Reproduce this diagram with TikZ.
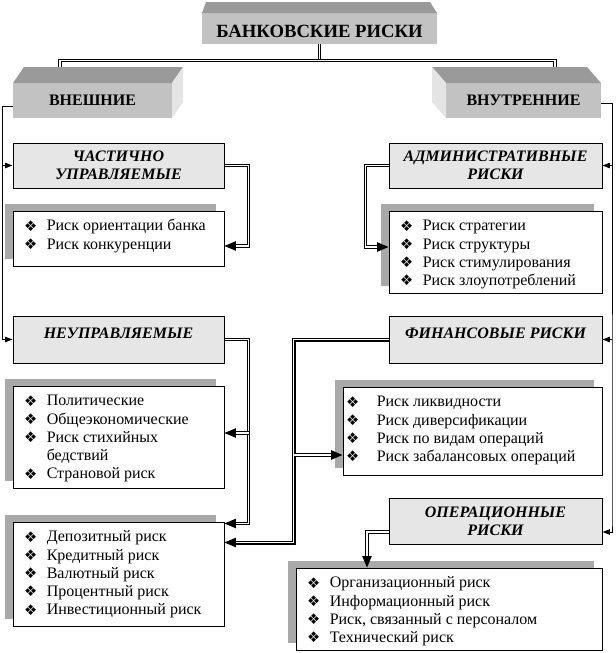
\documentclass[tikz,border=0pt]{standalone}
\usepackage{fontspec}
\setmainfont{Liberation Serif}
\newfontfamily\symfont{DejaVu Sans}
\usetikzlibrary{arrows.meta,shadows,calc}
\definecolor{topface}{HTML}{9A9A9A}
\definecolor{frontface}{HTML}{C2C2C2}
\definecolor{sideface}{HTML}{E4E4E4}
\definecolor{headfill}{HTML}{E6E6E6}
\definecolor{halftone}{HTML}{A9A9A9}
\newcommand\bul{{\symfont\fontsize{11pt}{11pt}\selectfont\raisebox{-0.3pt}{❖}}}
\newcommand\itm[2][8.5pt]{\rule{0pt}{9pt}\makebox[25.5pt][l]{\hspace{#1}\bul}#2}
\newcommand\itmcont[1]{\rule{0pt}{9pt}\hspace{25.5pt}#1}
\begin{document}
\begin{tikzpicture}[x=0.75pt,y=-0.75pt,
  box3d/.style={fill=frontface, inner sep=0pt, outer sep=0pt, font=\bfseries\fontsize{12pt}{14pt}\selectfont},
  headbox/.style={draw=black, line width=0.75pt, fill=headfill, inner sep=0pt, align=center,
    font=\bfseries\itshape\fontsize{12pt}{13.5pt}\selectfont,
    drop shadow={shadow xshift=1.1pt, shadow yshift=-1.1pt, fill=black!60, opacity=1}},
  listbox/.style={draw=black, line width=0.75pt, fill=white, inner sep=0pt,
    drop shadow={shadow xshift=-6pt, shadow yshift=5.25pt, fill=halftone, opacity=1}},
  listtext/.style={anchor=north west, inner sep=0pt, align=left, font=\fontsize{12pt}{13.7pt}\selectfont},
  dbl/.style={draw=black, line width=0.7pt, double=white, double distance=1.3pt},
  dblthick/.style={draw=black, line width=0.9pt, double=white, double distance=1.2pt},
  tipbig/.style={-{Triangle[length=8.5pt,width=7pt]}},
  rail/.style={draw=black, line width=0.75pt},
  tipsmall/.style={-{Triangle[length=5.5pt,width=4pt]}}
]
\useasboundingbox (0,0) rectangle (615,653);

% ---- 3D boxes ----
\node[box3d, minimum width=176.25pt, minimum height=23.25pt, font=\bfseries\fontsize{14pt}{16pt}\selectfont]
  (bank) at (319.5,28.5) {\raisebox{-2.25pt}[\height][\depth]{БАНКОВСКИЕ РИСКИ}};
\fill[topface] (bank.north west) -- ++(4,-11) -- ($(bank.north east)+(-7,-11)$) -- (bank.north east) -- cycle;

\node[box3d, minimum width=119.25pt, minimum height=26.25pt] (ext) at (92.5,100.5) {ВНЕШНИЕ};
\fill[topface] (ext.north west) -- ++(11,-16) -- ($(ext.north east)+(11,-16)$) -- (ext.north east) -- cycle;
\fill[sideface] (ext.north east) -- ++(11,-16) -- ($(ext.south east)+(11,-16)$) -- (ext.south east) -- cycle;

\node[box3d, minimum width=116.25pt, minimum height=26.25pt] (int) at (523.5,100.5) {ВНУТРЕННИЕ};
\fill[topface] (int.north west) -- ++(-14,-16) -- ($(int.north east)+(-14,-16)$) -- (int.north east) -- cycle;
\fill[sideface] (int.north west) -- ++(-14,-16) -- ($(int.south west)+(-14,-16)$) -- (int.south west) -- cycle;

\coordinate (hub) at (319.5,60.5);
\coordinate (extTop) at (60,67);
\coordinate (intTop) at (555,67);
\draw[dbl] (bank.south) -- (hub);
\draw[dbl] (extTop) |- (hub) -| (intTop);

% ---- heading boxes ----
\node[headbox, minimum width=158.25pt, minimum height=33.75pt] (chast) at (118.5,165.5) {ЧАСТИЧНО\\УПРАВЛЯЕМЫЕ};
\node[headbox, minimum width=159.75pt, minimum height=33.75pt] (admin) at (495.5,165.5) {АДМИНИСТРАТИВНЫЕ\\РИСКИ};
\node[headbox, minimum width=158.25pt, minimum height=35.25pt] (neup) at (118.5,339.5) {\raisebox{4.9pt}[\height][\depth]{НЕУПРАВЛЯЕМЫЕ}};
\node[headbox, minimum width=159.75pt, minimum height=35.25pt] (fin) at (495.5,339.5) {\raisebox{4.9pt}[\height][\depth]{ФИНАНСОВЫЕ РИСКИ}};
\node[headbox, minimum width=159.75pt, minimum height=34.5pt] (ops) at (495.5,521) {ОПЕРАЦИОННЫЕ\\РИСКИ};

% ---- list boxes ----
\node[listbox, minimum width=158.25pt, minimum height=41.25pt] (l1) at (118.5,238.5) {};
\node[listbox, minimum width=159.75pt, minimum height=61.5pt] (al) at (495.5,252) {};
\node[listbox, minimum width=158.25pt, minimum height=76.5pt] (l2) at (118.5,437) {};
\node[listbox, minimum width=194.25pt, minimum height=66pt] (fl) at (472.5,431) {};
\node[listbox, minimum width=158.25pt, minimum height=78pt] (l3) at (118.5,574) {};
\node[listbox, minimum width=229.5pt, minimum height=61.5pt] (ol) at (449,609) {};

\node[listtext] (l1t) at ([yshift=-6pt]l1.north west)
  {\itm{Риск ориентации банка}\\\itm{Риск конкуренции}};
\node[listtext] (alt) at ([yshift=-6pt]al.north west)
  {\itm{Риск стратегии}\\\itm{Риск структуры}\\\itm{Риск стимулирования}\\\itm{Риск злоупотреблений}};
\node[listtext] (l2t) at ([yshift=-6pt]l2.north west)
  {\itm{Политические}\\\itm{Общеэкономические}\\\itm{Риск стихийных}\\\itmcont{бедствий}\\\itm{Страновой риск}};
\node[listtext] (flt) at ([yshift=-6pt]fl.north west)
  {\itm[2.5pt]{Риск ликвидности}\\\itm[2.5pt]{Риск диверсификации}\\\itm[2.5pt]{Риск по видам операций}\\\itm[2.5pt]{Риск забалансовых операций}};
\node[listtext] (l3t) at ([yshift=-6pt]l3.north west)
  {\itm{Депозитный риск}\\\itm{Кредитный риск}\\\itm{Валютный риск}\\\itm{Процентный риск}\\\itm{Инвестиционный риск}};
\node[listtext] (olt) at ([yshift=-6pt]ol.north west)
  {\itm{Организационный риск}\\\itm{Информационный риск}\\\itm{Риск, связанный с персоналом}\\\itm{Технический риск}};

% ---- single rails ----
\coordinate (lrail) at (2,0);
\coordinate (rrail) at (612,0);
\draw[rail, tipsmall] ([yshift=-4.5pt]ext.west) -| (lrail |- neup.west) -- (neup.west);
\draw[rail, tipsmall] (lrail |- chast.west) -- (chast.west);
\draw[rail, tipsmall] ([yshift=-2pt]int.east) -| (rrail |- ops.east) |- ([yshift=-8.25pt]ops.east);
\draw[rail, tipsmall] (rrail |- admin.east) -- (admin.east);
\draw[rail, tipsmall] (rrail |- fin.east) -- (fin.east);

% ---- double connectors ----
\draw[dbl, tipbig] (chast.east) -- ++(24,0) |- ([yshift=-5.6pt]l1.east);
\draw[dbl, tipbig] (admin.west) -- ++(-23,0) |- ([yshift=3.75pt]al.west);
\draw[dbl, tipbig] (neup.east) -- ++(24,0) |- ([yshift=-1.5pt]l3.north east);
\draw[dbl, tipbig] ($(l2.east)+(24,-4)$) -- ([yshift=3pt]l2.east);
\draw[dblthick, tipbig] (fin.west) -- ++(-95,0) |- ([yshift=-15.75pt]l3.north east);
\draw[dblthick, tipbig] ($(fl.west)+(-49,24)$) -- ([yshift=-18pt]fl.west);
\draw[dbl, tipbig] ([yshift=-8.25pt]ops.west) -| ([xshift=-61.5pt]ol.north);
\end{tikzpicture}
\end{document}
